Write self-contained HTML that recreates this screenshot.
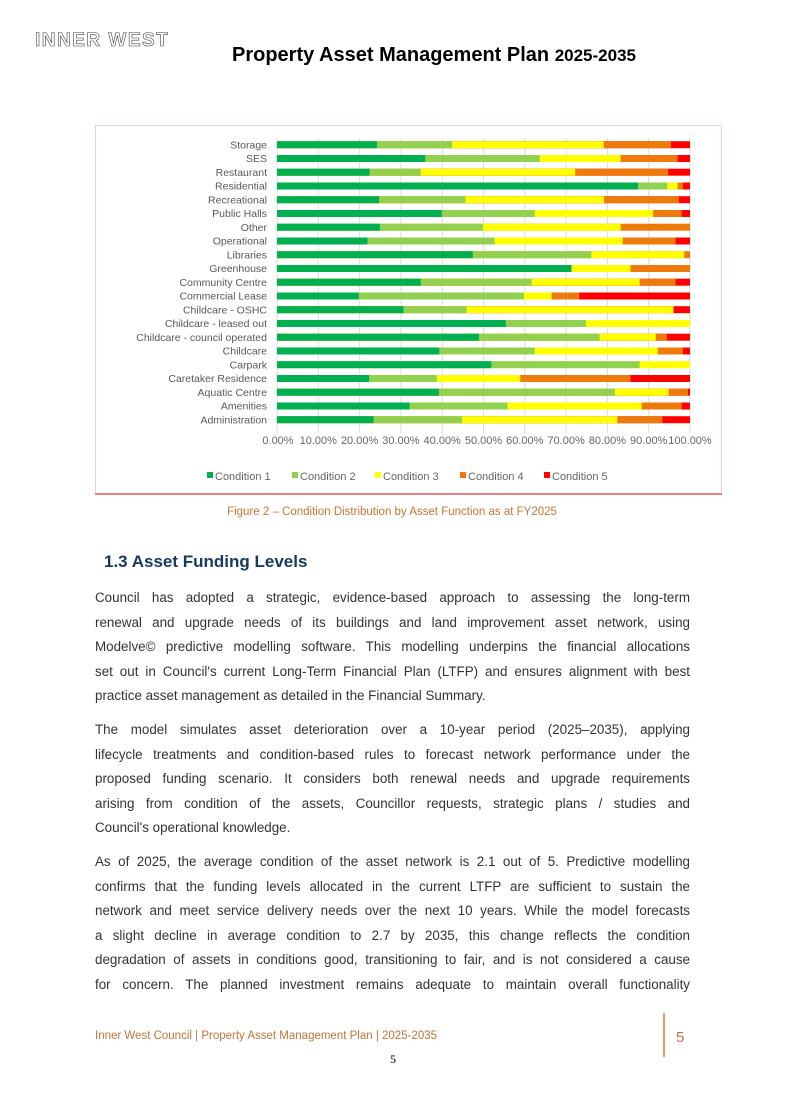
<!DOCTYPE html>
<html><head><meta charset="utf-8"><style>
html,body{margin:0;padding:0;background:#fff;}
body{width:785px;height:1109px;position:relative;overflow:hidden;font-family:"Liberation Sans",sans-serif;}
.ln{position:absolute;left:95px;width:595px;font-size:13.4px;color:#333;text-align:justify;text-align-last:justify;line-height:16px;white-space:nowrap;}
.ln.l{text-align-last:left;}
</style></head><body>
<div style="position:absolute;left:35px;top:30px;font-size:19px;font-weight:bold;letter-spacing:1.5px;color:#fff;-webkit-text-stroke:0.6px #444;">INNER WEST</div>
<div style="position:absolute;left:232px;top:44px;font-size:20px;font-weight:bold;color:#000;">Property Asset Management Plan <span style="font-size:17px">2025-2035</span></div>

<svg style="position:absolute;left:0;top:0" width="785" height="1109" font-family="Liberation Sans, sans-serif">
<rect x="95.5" y="125.5" width="626" height="368" fill="none" stroke="#f6cccc" stroke-width="1"/>
<line x1="95" y1="494" x2="722" y2="494" stroke="#e86060" stroke-width="1.5"/>
<g stroke="#dcdcdc" stroke-width="1">
<line x1="277" y1="138" x2="277" y2="433"/><line x1="318.3" y1="138" x2="318.3" y2="433"/><line x1="359.6" y1="138" x2="359.6" y2="433"/><line x1="400.9" y1="138" x2="400.9" y2="433"/><line x1="442.2" y1="138" x2="442.2" y2="433"/><line x1="483.5" y1="138" x2="483.5" y2="433"/><line x1="524.8" y1="138" x2="524.8" y2="433"/><line x1="566.1" y1="138" x2="566.1" y2="433"/><line x1="607.4" y1="138" x2="607.4" y2="433"/><line x1="648.7" y1="138" x2="648.7" y2="433"/><line x1="690" y1="138" x2="690" y2="433"/>
</g>
<g font-size="10.5" fill="#595959" text-anchor="end">
<text x="267" y="148.5">Storage</text><text x="267" y="162.2">SES</text><text x="267" y="176">Restaurant</text><text x="267" y="189.7">Residential</text><text x="267" y="203.5">Recreational</text><text x="267" y="217.2">Public Halls</text><text x="267" y="231">Other</text><text x="267" y="244.7">Operational</text><text x="267" y="258.5">Libraries</text><text x="267" y="272.2">Greenhouse</text><text x="267" y="286">Community Centre</text><text x="267" y="299.7">Commercial Lease</text><text x="267" y="313.5">Childcare - OSHC</text><text x="267" y="327.2">Childcare - leased out</text><text x="267" y="341">Childcare - council operated</text><text x="267" y="354.7">Childcare</text><text x="267" y="368.5">Carpark</text><text x="267" y="382.2">Caretaker Residence</text><text x="267" y="396">Aquatic Centre</text><text x="267" y="409.7">Amenities</text><text x="267" y="423.5">Administration</text>
</g>
<svg x="277" y="0" width="413" height="1109" viewBox="0 0 100 1109" preserveAspectRatio="none">
<g>
<g transform="translate(0,141.2)"><rect width="100" height="7" fill="#ff0000"/><rect width="95.4" height="7" fill="#ee7a0c"/><rect width="79.1" height="7" fill="#ffff00"/><rect width="42.4" height="7" fill="#92d050"/><rect width="24.2" height="7" fill="#00b050"/></g>
<g transform="translate(0,155)"><rect width="100" height="7" fill="#ff0000"/><rect width="97.0" height="7" fill="#ee7a0c"/><rect width="83.2" height="7" fill="#ffff00"/><rect width="63.6" height="7" fill="#92d050"/><rect width="35.9" height="7" fill="#00b050"/></g>
<g transform="translate(0,168.7)"><rect width="100" height="7" fill="#ff0000"/><rect width="94.7" height="7" fill="#ee7a0c"/><rect width="72.2" height="7" fill="#ffff00"/><rect width="34.8" height="7" fill="#92d050"/><rect width="22.4" height="7" fill="#00b050"/></g>
<g transform="translate(0,182.5)"><rect width="100" height="7" fill="#ff0000"/><rect width="98.3" height="7" fill="#ee7a0c"/><rect width="97.0" height="7" fill="#ffff00"/><rect width="94.5" height="7" fill="#92d050"/><rect width="87.4" height="7" fill="#00b050"/></g>
<g transform="translate(0,196.2)"><rect width="100" height="7" fill="#ff0000"/><rect width="97.3" height="7" fill="#ee7a0c"/><rect width="79.2" height="7" fill="#ffff00"/><rect width="45.6" height="7" fill="#92d050"/><rect width="24.7" height="7" fill="#00b050"/></g>
<g transform="translate(0,210)"><rect width="100" height="7" fill="#ff0000"/><rect width="98.0" height="7" fill="#ee7a0c"/><rect width="91.1" height="7" fill="#ffff00"/><rect width="62.4" height="7" fill="#92d050"/><rect width="39.9" height="7" fill="#00b050"/></g>
<g transform="translate(0,223.7)"><rect width="100" height="7" fill="#ee7a0c"/><rect width="83.2" height="7" fill="#ffff00"/><rect width="49.9" height="7" fill="#92d050"/><rect width="24.9" height="7" fill="#00b050"/></g>
<g transform="translate(0,237.5)"><rect width="100" height="7" fill="#ff0000"/><rect width="96.5" height="7" fill="#ee7a0c"/><rect width="83.7" height="7" fill="#ffff00"/><rect width="52.7" height="7" fill="#92d050"/><rect width="21.9" height="7" fill="#00b050"/></g>
<g transform="translate(0,251.2)"><rect width="100" height="7" fill="#ee7a0c"/><rect width="98.6" height="7" fill="#ffff00"/><rect width="76.1" height="7" fill="#92d050"/><rect width="47.4" height="7" fill="#00b050"/></g>
<g transform="translate(0,265)"><rect width="100" height="7" fill="#ee7a0c"/><rect width="85.6" height="7" fill="#ffff00"/><rect width="71.3" height="7" fill="#00b050"/></g>
<g transform="translate(0,278.7)"><rect width="100" height="7" fill="#ff0000"/><rect width="96.5" height="7" fill="#ee7a0c"/><rect width="87.8" height="7" fill="#ffff00"/><rect width="61.7" height="7" fill="#92d050"/><rect width="34.8" height="7" fill="#00b050"/></g>
<g transform="translate(0,292.5)"><rect width="100" height="7" fill="#ff0000"/><rect width="73.2" height="7" fill="#ee7a0c"/><rect width="66.5" height="7" fill="#ffff00"/><rect width="59.8" height="7" fill="#92d050"/><rect width="19.8" height="7" fill="#00b050"/></g>
<g transform="translate(0,306.2)"><rect width="100" height="7" fill="#ff0000"/><rect width="96.0" height="7" fill="#ffff00"/><rect width="45.9" height="7" fill="#92d050"/><rect width="30.6" height="7" fill="#00b050"/></g>
<g transform="translate(0,320)"><rect width="100" height="7" fill="#ffff00"/><rect width="74.8" height="7" fill="#92d050"/><rect width="55.4" height="7" fill="#00b050"/></g>
<g transform="translate(0,333.7)"><rect width="100" height="7" fill="#ff0000"/><rect width="94.4" height="7" fill="#ee7a0c"/><rect width="91.7" height="7" fill="#ffff00"/><rect width="78.1" height="7" fill="#92d050"/><rect width="48.9" height="7" fill="#00b050"/></g>
<g transform="translate(0,347.5)"><rect width="100" height="7" fill="#ff0000"/><rect width="98.3" height="7" fill="#ee7a0c"/><rect width="92.2" height="7" fill="#ffff00"/><rect width="62.4" height="7" fill="#92d050"/><rect width="39.3" height="7" fill="#00b050"/></g>
<g transform="translate(0,361.2)"><rect width="100" height="7" fill="#ffff00"/><rect width="87.8" height="7" fill="#92d050"/><rect width="51.9" height="7" fill="#00b050"/></g>
<g transform="translate(0,375)"><rect width="100" height="7" fill="#ff0000"/><rect width="85.6" height="7" fill="#ee7a0c"/><rect width="58.9" height="7" fill="#ffff00"/><rect width="38.7" height="7" fill="#92d050"/><rect width="22.3" height="7" fill="#00b050"/></g>
<g transform="translate(0,388.7)"><rect width="100" height="7" fill="#ff0000"/><rect width="99.5" height="7" fill="#ee7a0c"/><rect width="94.8" height="7" fill="#ffff00"/><rect width="81.8" height="7" fill="#92d050"/><rect width="39.2" height="7" fill="#00b050"/></g>
<g transform="translate(0,402.5)"><rect width="100" height="7" fill="#ff0000"/><rect width="98.0" height="7" fill="#ee7a0c"/><rect width="88.3" height="7" fill="#ffff00"/><rect width="55.8" height="7" fill="#92d050"/><rect width="32.1" height="7" fill="#00b050"/></g>
<g transform="translate(0,416.2)"><rect width="100" height="7" fill="#ff0000"/><rect width="93.3" height="7" fill="#ee7a0c"/><rect width="82.4" height="7" fill="#ffff00"/><rect width="44.8" height="7" fill="#92d050"/><rect width="23.4" height="7" fill="#00b050"/></g>
</g>
</svg>
<g font-size="11" fill="#666" text-anchor="middle">
<text x="278" y="444">0.00%</text><text x="318.3" y="444">10.00%</text><text x="359.6" y="444">20.00%</text><text x="400.9" y="444">30.00%</text><text x="442.2" y="444">40.00%</text><text x="483.5" y="444">50.00%</text><text x="524.8" y="444">60.00%</text><text x="566.1" y="444">70.00%</text><text x="607.4" y="444">80.00%</text><text x="648.7" y="444">90.00%</text><text x="690" y="444">100.00%</text>
</g>
<g font-size="11" fill="#666">
<rect x="207" y="472" width="6" height="6" fill="#00b050"/><text x="215" y="480">Condition 1</text>
<rect x="292" y="472" width="6" height="6" fill="#92d050"/><text x="300" y="480">Condition 2</text>
<rect x="375" y="472" width="6" height="6" fill="#ffff00"/><text x="383" y="480">Condition 3</text>
<rect x="460" y="472" width="6" height="6" fill="#ee7a0c"/><text x="468" y="480">Condition 4</text>
<rect x="544" y="472" width="6" height="6" fill="#ff0000"/><text x="552" y="480">Condition 5</text>
</g>
<text x="392" y="515" font-size="11.5" fill="#c87533" text-anchor="middle">Figure 2 – Condition Distribution by Asset Function as at FY2025</text>
<text x="104" y="567" font-size="17" font-weight="bold" fill="#173a60">1.3  Asset Funding Levels</text>
<line x1="664" y1="1013" x2="664" y2="1057" stroke="#e57a26" stroke-width="1.5"/>
<text x="676" y="1042" font-size="15" fill="#c0743a">5</text>
<text x="95" y="1039" font-size="11.5" fill="#c0743a">Inner West Council | Property Asset Management Plan | 2025-2035</text>
<text x="393" y="1063" font-size="12" fill="#000" text-anchor="middle" font-family="Liberation Serif, serif">5</text>
</svg>

<div class="ln" style="top:590px">Council has adopted a strategic, evidence-based approach to assessing the long-term</div>
<div class="ln" style="top:614.5px">renewal and upgrade needs of its buildings and land improvement asset network, using</div>
<div class="ln" style="top:639px">Modelve© predictive modelling software. This modelling underpins the financial allocations</div>
<div class="ln" style="top:663.5px">set out in Council's current Long-Term Financial Plan (LTFP) and ensures alignment with best</div>
<div class="ln l" style="top:688px">practice asset management as detailed in the Financial Summary.</div>
<div class="ln" style="top:722px">The model simulates asset deterioration over a 10-year period (2025–2035), applying</div>
<div class="ln" style="top:746.5px">lifecycle treatments and condition-based rules to forecast network performance under the</div>
<div class="ln" style="top:771px">proposed funding scenario. It considers both renewal needs and upgrade requirements</div>
<div class="ln" style="top:795.5px">arising from condition of the assets, Councillor requests, strategic plans / studies and</div>
<div class="ln l" style="top:820px">Council's operational knowledge.</div>
<div class="ln" style="top:854px">As of 2025, the average condition of the asset network is 2.1 out of 5. Predictive modelling</div>
<div class="ln" style="top:878.5px">confirms that the funding levels allocated in the current LTFP are sufficient to sustain the</div>
<div class="ln" style="top:903px">network and meet service delivery needs over the next 10 years. While the model forecasts</div>
<div class="ln" style="top:927.5px">a slight decline in average condition to 2.7 by 2035, this change reflects the condition</div>
<div class="ln" style="top:952px">degradation of assets in conditions good, transitioning to fair, and is not considered a cause</div>
<div class="ln" style="top:976.5px">for concern. The planned investment remains adequate to maintain overall functionality</div>
</body></html>
